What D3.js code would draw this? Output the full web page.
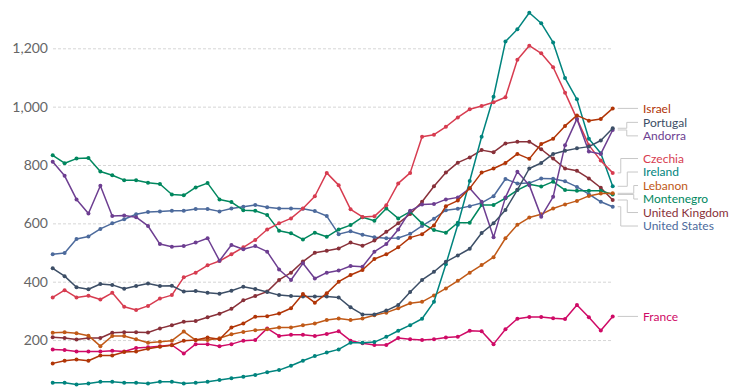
<!DOCTYPE html>
<html><head><meta charset="utf-8">
<script src="https://cdn.jsdelivr.net/npm/d3@7"></script>
<style>
body{margin:0;background:#fff;}
svg{display:block;font-family:Lato,"Helvetica Neue",Arial,sans-serif;}
</style>
</head><body>
<svg id="chart" width="740" height="389"></svg>
<script>
// ---- data ----
const years = [1975,1976,1977,1978,1979,1980,1981,1982,1983,1984,1985,1986,1987,1988,1989,1990,
  1991,1992,1993,1994,1995,1996,1997,1998,1999,2000,2001,2002,2003,2004,2005,2006,
  2007,2008,2009,2010,2011,2012,2013,2014,2015,2016,2017,2018,2019,2020,2021,2022];
const yTicks = [200,400,600,800,1000,1200];
const seriesNames = ["Israel","Portugal","Andorra","Czechia","Ireland","Lebanon","Montenegro","United Kingdom","United States","France"];
const seriesColors = ["#B13507","#3C4E66","#6D3E91","#D73C50","#00847E","#C05917","#00875E","#883039","#4C6A9C","#CF0A66"];

const israel = [120,129,133,129,147,147,159,161,170,177,182,198,200,209,203,243,257,280,282,291,309,358,328,360,400,423,440,478,494,518,551,563,593,659,678,720,774,788,807,838,821,872,890,934,970,952,958,994];
const portugal = [446,419,381,374,392,389,376,385,394,385,386,366,368,362,359,369,383,375,365,354,351,349,349,349,346,312,288,288,301,320,365,406,434,468,490,513,567,600,646,715,788,807,838,849,857,863,884,926];
const andorra = [811,763,682,634,729,625,627,621,591,529,520,522,534,549,472,526,511,522,503,442,406,463,411,431,438,454,451,503,529,579,643,665,666,682,689,720,674,552,689,777,731,623,691,868,958,846,838,920];
const czechia = [346,371,346,352,339,362,314,303,317,342,354,415,431,456,471,494,518,543,579,600,617,651,693,773,731,648,622,624,662,737,773,897,904,931,963,991,1002,1015,1032,1161,1209,1183,1135,1048,958,868,815,773];
const ireland = [54,54,48,51,57,57,54,54,51,57,57,51,54,57,63,69,74,80,90,97,112,129,145,157,168,191,191,193,211,232,251,273,331,460,595,745,897,1034,1223,1265,1322,1286,1220,1098,1025,890,840,727];
const lebanon = [225,227,223,215,179,214,214,203,191,194,198,229,200,200,206,220,228,234,237,243,243,251,257,269,274,269,274,285,294,309,326,331,353,377,403,431,457,484,549,595,620,631,651,665,677,694,702,703];
const montenegro = [833,806,822,824,778,765,748,748,739,735,699,696,723,738,682,673,645,643,629,575,566,545,568,554,579,594,621,609,651,617,640,600,577,568,602,602,663,663,686,714,734,726,743,714,712,712,712,699];
const unitedKingdom = [210,207,202,207,207,225,227,227,226,240,251,263,265,278,290,307,336,351,366,406,431,469,499,506,514,534,523,541,571,600,632,674,727,774,808,826,851,844,874,880,880,854,822,788,780,754,722,680];
const unitedStates = [494,498,546,555,581,600,614,631,639,641,643,643,649,649,641,651,657,663,655,651,651,650,642,625,563,573,561,552,549,550,564,591,616,645,650,659,670,693,752,737,738,754,753,744,725,700,674,657];
const france = [168,166,161,161,161,163,161,173,175,179,183,154,186,186,179,186,198,200,240,214,218,218,214,221,230,198,189,183,183,207,203,200,203,209,211,232,230,186,237,273,279,279,275,272,320,278,233,281];

const seriesValues = [israel,portugal,andorra,czechia,ireland,lebanon,montenegro,unitedKingdom,unitedStates,france];

// ---- chart ----
const svg = d3.select("#chart");
const x = d3.scaleLinear().domain([years[0], years[years.length-1]]).range([52.7, 612.7]);
const y = d3.scaleLinear().domain([0, 1200]).range([398.4, 48.3]);

const yAxis = d3.axisLeft(y).tickValues(yTicks).tickFormat(d3.format(","))
  .tickSize(-(x.range()[1]-53)).tickPadding(5);
const gAxis = svg.append("g").attr("transform","translate(53,0)").call(yAxis);
gAxis.select(".domain").remove();
gAxis.selectAll(".tick line").attr("stroke","#d6d6d6").attr("stroke-dasharray","3,2");
gAxis.selectAll(".tick text").attr("fill","#666").style("font-size","14px").style("font-family","Lato, sans-serif");

const series = seriesNames.map((name,k)=>({name, color:seriesColors[k], values:seriesValues[k]}));

const line = d3.line().x((d,i)=>x(years[i])).y(d=>y(d));

const drawOrder = series.slice().reverse();
const gS = svg.append("g");
drawOrder.forEach(s=>{
  const g = gS.append("g");
  g.append("path").attr("d", line(s.values)).attr("fill","none")
    .attr("stroke", s.color).attr("stroke-width",1.5).attr("stroke-linejoin","round");
  g.selectAll("circle").data(s.values).join("circle")
    .attr("cx",(d,i)=>x(years[i])).attr("cy",d=>y(d)).attr("r",2).attr("fill",s.color);
});

// ---- end labels with collision resolution ----
const spacing = 13.5;
const lastX = x(years[years.length-1]);
let items = series.map(s=>({s, target:y(s.values[s.values.length-1])})).sort((a,b)=>a.target-b.target);
let groups = items.map(it=>({items:[it]}));
function place(g){
  const mean = d3.mean(g.items, d=>d.target);
  const n = g.items.length;
  g.items.forEach((it,k)=>{ it.ly = mean + (k-(n-1)/2)*spacing; });
  g.top = g.items[0].ly; g.bottom = g.items[n-1].ly;
}
groups.forEach(place);
let merged = true;
while(merged){
  merged = false;
  for(let i=1;i<groups.length;i++){
    if(groups[i].top - groups[i-1].bottom < spacing){
      groups[i-1].items = groups[i-1].items.concat(groups[i].items);
      place(groups[i-1]);
      groups.splice(i,1);
      merged = true; break;
    }
  }
}
const labelX = 643;
const gL = svg.append("g");
groups.forEach(g=>{
  const n = g.items.length;
  g.items.forEach((it,k)=>{
    const d = Math.abs(k-(n-1)/2);
    const xm = n===1 ? labelX-5 : Math.max(620, 637 - 6.5*d - (n===2?7:0));
    const pts = [[lastX+5,it.target],[xm,it.target],[xm,it.ly],[labelX-5,it.ly]];
    gL.append("path").attr("d", d3.line()(pts)).attr("fill","none")
      .attr("stroke","#c8c8c8").attr("stroke-width",1);
    gL.append("text").attr("x",labelX).attr("y",it.ly).attr("dy","0.35em")
      .attr("fill",it.s.color).style("font-size","12px").style("font-weight","400")
      .style("font-family","Lato, sans-serif").text(it.s.name);
  });
});
</script>
</body></html>
